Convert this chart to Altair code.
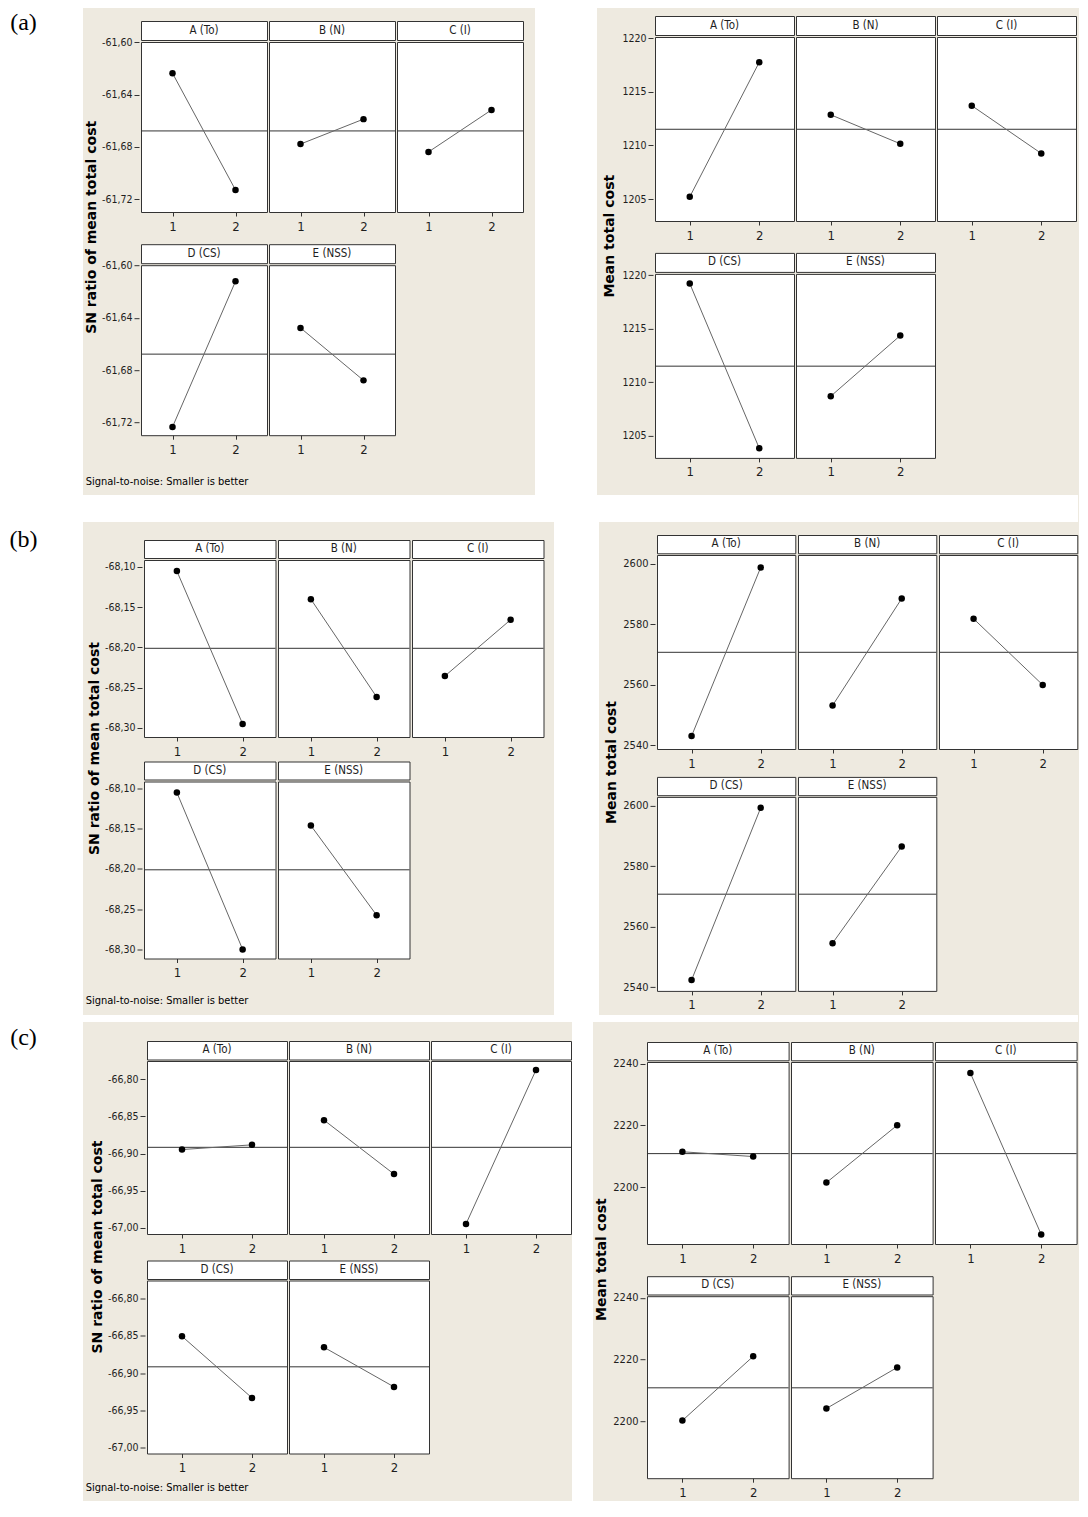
import altair as alt
import pandas as pd

# ---------------- data ----------------
factors = ["A (To)", "B (N)", "C (I)", "D (CS)", "E (NSS)"]
levels = [1, 2]

# (a) SN ratio of mean total cost
a_sn_level1 = [-61.623, -61.677, -61.683, -61.7225, -61.647]
a_sn_level2 = [-61.712, -61.658, -61.651, -61.6115, -61.687]
a_sn_mean = -61.667
a_sn_ticks = [-61.60, -61.64, -61.68, -61.72]
a_sn_domain = [-61.7288, -61.5992]

# (a) Mean total cost
a_mean_level1 = [1205.3, 1212.95, 1213.8, 1219.3, 1208.8]
a_mean_level2 = [1217.85, 1210.25, 1209.35, 1203.95, 1214.45]
a_mean_mean = 1211.6
a_mean_ticks = [1205, 1210, 1215, 1220]
a_mean_domain = [1203.05, 1220.2]

# (b) SN ratio of mean total cost
b_sn_level1 = [-68.104, -68.139, -68.2345, -68.104, -68.145]
b_sn_level2 = [-68.294, -68.2605, -68.1645, -68.299, -68.2565]
b_sn_mean = -68.20
b_sn_ticks = [-68.10, -68.15, -68.20, -68.25, -68.30]
b_sn_domain = [-68.3103, -68.0902]

# (b) Mean total cost
b_mean_level1 = [2543.3, 2553.4, 2582.1, 2542.6, 2554.8]
b_mean_level2 = [2599.1, 2588.8, 2560.2, 2599.6, 2586.8]
b_mean_mean = 2571.0
b_mean_ticks = [2540, 2560, 2580, 2600]
b_mean_domain = [2539.0, 2603.2]

# (c) SN ratio of mean total cost
c_sn_level1 = [-66.894, -66.8545, -66.994, -66.85, -66.8648]
c_sn_level2 = [-66.8877, -66.927, -66.787, -66.9328, -66.918]
c_sn_mean = -66.891
c_sn_ticks = [-66.80, -66.85, -66.90, -66.95, -67.00]
c_sn_domain = [-67.0075, -66.775]

# (c) Mean total cost
c_mean_level1 = [2211.7, 2201.7, 2237.2, 2200.5, 2204.4]
c_mean_level2 = [2210.15, 2220.3, 2184.9, 2221.3, 2217.7]
c_mean_mean = 2211.1
c_mean_ticks = [2200, 2220, 2240]
c_mean_domain = [2181.8, 2240.8]

panel_labels = ["(a)", "(b)", "(c)"]
sn_title = "SN ratio of mean total cost"
mean_title = "Mean total cost"
caption = "Signal-to-noise: Smaller is better"

# ---------------- style ----------------
BEIGE = "#EEEAE0"
NARROW = "DejaVu Sans Condensed, Liberation Sans, sans-serif"
FRAME = "#333333"
LINE_C = "#666666"
TEXT_C = "#1e1e1e"
XEXT = 22        # x-axis extent asked from Vega
XEXT_REAL = 24.5  # extent it actually takes in the layout
TITLE_W = 18
PANEL_VIEW = alt.ViewBackground(fill="white", stroke=FRAME, strokeWidth=1)
NO_VIEW = alt.ViewBackground(fill="transparent", stroke="transparent", strokeWidth=0)
WHITE_VIEW = alt.ViewBackground(fill="white", stroke="transparent", strokeWidth=0)

DEC_EXPR = "replace(replace(format(datum.value, '.2f'), '.', ','), '\u2212', '-')"
INT_EXPR = "format(datum.value, 'd')"

dummy = pd.DataFrame({"d": [0]})


def spacer(w, h, view=NO_VIEW):
    return alt.Chart(dummy).mark_point(opacity=0, size=1).properties(width=w, height=h, view=view)


def text_box(text, w, h, angle=0, font=NARROW, size=13, weight="normal", view=NO_VIEW):
    return alt.Chart(pd.DataFrame({"t": [text]})).mark_text(
        angle=angle, font=font, fontSize=size, fontWeight=weight, color="black", baseline="middle"
    ).encode(text="t:N").properties(width=w, height=h, view=view)


def axis_col(domain, ticks, hh, ph, expr, fs, ext):
    # the axis is drawn at the right edge of a fixed-width column, labels stay inside it
    lo, hi = domain
    hi_ext = hi + (hi - lo) * hh / ph
    df = pd.DataFrame({"v": ticks})
    return alt.Chart(df).mark_point(opacity=0, size=1).encode(
        y=alt.Y("v:Q", scale=alt.Scale(domain=[lo, hi_ext], nice=False, zero=False),
                axis=alt.Axis(values=ticks, title=None, labelExpr=expr, domain=False,
                              grid=False, tickSize=5, labelPadding=2, labelFontSize=fs,
                              labelFont=NARROW, labelColor=TEXT_C, tickColor=FRAME,
                              offset=-ext))
    ).properties(width=ext, height=hh + ph, view=NO_VIEW)


def panel(name, v1, v2, mean, domain, pw, hh, ph):
    df = pd.DataFrame({"level": levels, "value": [v1, v2]})
    hdr = alt.Chart(pd.DataFrame({"label": [name]})).mark_text(
        font=NARROW, fontSize=11.5, color=TEXT_C, baseline="middle"
    ).encode(text="label:N").properties(width=pw, height=hh - 1, view=PANEL_VIEW)
    yscale = alt.Scale(domain=domain, nice=False, zero=False)
    x = alt.X("level:Q", scale=alt.Scale(domain=[0.5, 2.5], nice=False, zero=False),
              axis=alt.Axis(values=levels, title=None, format="d", grid=False, domain=False,
                            tickSize=4, labelPadding=4, labelFontSize=13, labelFont=NARROW,
                            labelColor=TEXT_C, tickColor=FRAME,
                            minExtent=XEXT, maxExtent=XEXT))
    y = alt.Y("value:Q", scale=yscale, axis=None)
    base = alt.Chart(df)
    rule = alt.Chart(pd.DataFrame({"m": [mean]})).mark_rule(color=FRAME, strokeWidth=1).encode(
        y=alt.Y("m:Q", scale=yscale, axis=None))
    line = base.mark_line(color=LINE_C, strokeWidth=1).encode(x=x, y=y)
    pts = base.mark_point(filled=True, opacity=1, color="black", size=42).encode(x=x, y=y)
    plot = alt.layer(rule, line, pts).properties(width=pw, height=ph, view=PANEL_VIEW)
    return alt.vconcat(hdr, plot, spacing=0)


def block(lv1, lv2, mean, domain, ticks, expr, fs, pitch, hh, ph, gap, top, ytitle,
          s1, ext, cap_gap=None):
    pw = pitch - 1
    rows = []
    for idxs in ([0, 1, 2], [3, 4]):
        cols = [axis_col(domain, ticks, hh, ph, expr, fs, ext)]
        for i in idxs:
            cols.append(panel(factors[i], lv1[i], lv2[i], mean, domain, pw, hh, ph))
        rows.append(alt.hconcat(*cols, spacing=0))
    grid = alt.vconcat(*rows, spacing=max(gap - XEXT_REAL, 0))
    extent = 2 * (hh + ph) + gap
    ttl = text_box(ytitle, TITLE_W, extent, angle=270, font="DejaVu Sans", size=14, weight="bold")
    parts_h = [spacer(s1, 1)] if s1 > 0 else []
    parts_h += [ttl, grid]
    body = alt.hconcat(*parts_h, spacing=0)
    parts = [spacer(1, top), body]
    if cap_gap is not None:
        parts.append(spacer(1, cap_gap))
        parts.append(alt.hconcat(spacer(2, 1), text_box(caption, 164, 16, size=11), spacing=0))
    return alt.vconcat(*parts, spacing=0)


def label_col(text, h, bh):
    top = alt.hconcat(
        text_box(text, 31, bh, font="Liberation Serif", size=24, view=WHITE_VIEW),
        spacer(44, bh, WHITE_VIEW), spacing=0)
    return alt.vconcat(top, spacer(75, h - bh, WHITE_VIEW), spacing=0)


row_a = alt.hconcat(
    label_col(panel_labels[0], 487, 30),
    block(a_sn_level1, a_sn_level2, a_sn_mean, a_sn_domain, a_sn_ticks, DEC_EXPR, 10.5,
          127, 20, 170, 32.7, 12, sn_title, 0, 38, 16),
    spacer(11, 1), spacer(62, 487, WHITE_VIEW),
    block(a_mean_level1, a_mean_level2, a_mean_mean, a_mean_domain, a_mean_ticks, INT_EXPR, 10.5,
          140, 20, 184, 32.4, 7, mean_title, 4, 34),
    spacing=0)

row_b = alt.hconcat(
    label_col(panel_labels[1], 493, 36),
    block(b_sn_level1, b_sn_level2, b_sn_mean, b_sn_domain, b_sn_ticks, DEC_EXPR, 10.5,
          132.5, 19, 177, 25, 17, sn_title, 3, 38, 12),
    spacer(9, 1), spacer(45, 493, WHITE_VIEW),
    block(b_mean_level1, b_mean_level2, b_mean_mean, b_mean_domain, b_mean_ticks, INT_EXPR, 11,
          139.3, 19.3, 194, 28.4, 12, mean_title, 4, 34),
    spacing=0)

row_c = alt.hconcat(
    label_col(panel_labels[2], 479, 32),
    block(c_sn_level1, c_sn_level2, c_sn_mean, c_sn_domain, c_sn_ticks, DEC_EXPR, 10.5,
          141, 19.5, 173, 27, 18, sn_title, 6, 38, 4),
    spacer(21, 479, WHITE_VIEW),
    block(c_mean_level1, c_mean_level2, c_mean_mean, c_mean_domain, c_mean_ticks, INT_EXPR, 11,
          142.6, 19.3, 182, 32.7, 19, mean_title, 0, 34),
    spacing=0)

chart = alt.vconcat(
    row_a, spacer(1070, 27, WHITE_VIEW), row_b, spacer(1070, 7, WHITE_VIEW), row_c,
    spacing=0
).properties(background=BEIGE, padding=0).configure_view(strokeWidth=0).configure_concat(spacing=0)

chart.save("out.html", embed_options={"renderer": "svg", "actions": False})
